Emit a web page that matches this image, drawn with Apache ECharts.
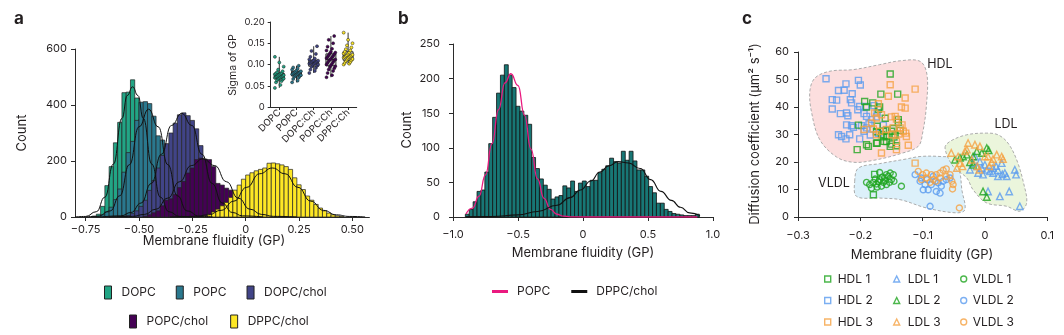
<!DOCTYPE html>
<html><head><meta charset="utf-8">
<script src="https://cdn.jsdelivr.net/npm/echarts@6/dist/echarts.min.js"></script>
<style>html,body{margin:0;padding:0;background:#fff}#c{width:1064px;height:335px}</style>
</head><body><div id="c"></div>
<script>
// ---------------- Panel a : histograms (bin centres, GP) and counts ----------------
const BIN_A = 0.02;
const DOPC_GP = [-0.71,-0.69,-0.67,-0.65,-0.63,-0.61,-0.59,-0.57,-0.55,-0.53,-0.51,-0.49,-0.47,-0.45,-0.43,-0.41,-0.39,-0.37,-0.35];
const DOPC_N  = [3,10,38,112,180,265,338,444,446,490,425,350,260,175,105,60,28,12,4];
const POPC_GP = [-0.69,-0.67,-0.65,-0.63,-0.61,-0.59,-0.57,-0.55,-0.53,-0.51,-0.49,-0.47,-0.45,-0.43,-0.41,-0.39,-0.37,-0.35,-0.33,-0.31,-0.29,-0.27,-0.25,-0.23];
const POPC_N  = [3,8,18,35,62,100,160,230,270,345,410,412,405,360,290,275,195,125,75,42,22,10,4,2];
const DOPCCH_GP = [-0.57,-0.55,-0.53,-0.51,-0.49,-0.47,-0.45,-0.43,-0.41,-0.39,-0.37,-0.35,-0.33,-0.31,-0.29,-0.27,-0.25,-0.23,-0.21,-0.19,-0.17,-0.15,-0.13,-0.11,-0.09,-0.07,-0.05,-0.03];
const DOPCCH_N  = [3,6,12,22,38,60,95,130,175,220,262,300,335,365,372,362,345,315,255,200,160,120,85,55,32,16,7,3];
const POPCCH_GP = [-0.47,-0.45,-0.43,-0.41,-0.39,-0.37,-0.35,-0.33,-0.31,-0.29,-0.27,-0.25,-0.23,-0.21,-0.19,-0.17,-0.15,-0.13,-0.11,-0.09,-0.07,-0.05,-0.03,-0.01,0.01,0.03,0.05,0.07];
const POPCCH_N  = [3,8,15,22,40,60,65,80,105,127,157,175,205,210,207,205,180,120,114,103,96,70,50,30,18,9,4,2];
const DPPCCH_GP = [-0.19,-0.17,-0.15,-0.13,-0.11,-0.09,-0.07,-0.05,-0.03,-0.01,0.01,0.03,0.05,0.07,0.09,0.11,0.13,0.15,0.17,0.19,0.21,0.23,0.25,0.27,0.29,0.31,0.33,0.35,0.37,0.39,0.41,0.43,0.45];
const DPPCCH_N  = [4,10,18,28,40,52,70,96,114,135,150,158,165,170,175,192,193,190,186,180,170,140,115,98,75,60,45,32,22,14,8,4,2];

// fitted curves [GP, count]
const FIT_DOPC   = [[-0.8,0.1],[-0.75,2],[-0.7,19],[-0.66,71],[-0.62,189],[-0.58,352],[-0.555,434],[-0.53,465],[-0.505,434],[-0.48,352],[-0.44,189],[-0.4,71],[-0.36,19],[-0.31,2],[-0.26,0.1]];
const FIT_POPC   = [[-0.755,0.1],[-0.695,2.3],[-0.635,21.6],[-0.59,76],[-0.545,187],[-0.5,322],[-0.455,385],[-0.41,322],[-0.365,187],[-0.32,76],[-0.275,21.6],[-0.215,2.3],[-0.155,0.1]];
const FIT_DOPCCH = [[-0.68,0.1],[-0.585,4.1],[-0.5375,16.2],[-0.49,50],[-0.4425,120],[-0.395,224],[-0.3475,327],[-0.3,370],[-0.2525,327],[-0.205,224],[-0.1575,120],[-0.11,50],[-0.0625,16.2],[-0.015,4.1],[0.08,0.1]];
const FIT_POPCCH = [[-0.64,0.1],[-0.53,2.3],[-0.475,9.1],[-0.42,28.1],[-0.365,67.5],[-0.31,126],[-0.255,183.6],[-0.2,208],[-0.145,183.6],[-0.09,126],[-0.035,67.5],[0.02,28.1],[0.075,9.1],[0.13,2.3],[0.24,0.1]];
const FIT_DPPCCH = [[-0.355,0.1],[-0.235,2],[-0.175,7.7],[-0.115,23.7],[-0.055,56.7],[0.005,106],[0.065,154.4],[0.125,175],[0.185,154.4],[0.245,106],[0.305,56.7],[0.365,23.7],[0.425,7.7],[0.485,2],[0.56,0.3]];
const TICKS_A_X = [-0.75,-0.5,-0.25,0,0.25,0.5];

// inset: sigma of GP
const INSET_CATS = ['DOPC','POPC','DOPC:Ch','POPC:Ch','DPPC:Ch'];
const SIG_DOPC   = [0.045,0.052,0.058,0.061,0.063,0.065,0.066,0.067,0.068,0.069,0.070,0.071,0.072,0.072,0.073,0.074,0.075,0.076,0.077,0.078,0.079,0.080,0.082,0.084,0.088,0.095,0.105,0.118];
const SIG_POPC   = [0.058,0.062,0.066,0.069,0.071,0.073,0.074,0.075,0.076,0.077,0.078,0.079,0.080,0.081,0.082,0.083,0.084,0.086,0.088,0.090,0.093,0.097];
const SIG_DOPCCH = [0.080,0.085,0.088,0.092,0.095,0.097,0.099,0.100,0.101,0.102,0.103,0.104,0.105,0.106,0.107,0.108,0.109,0.110,0.112,0.114,0.118,0.125,0.132,0.143];
const SIG_POPCCH = [0.070,0.075,0.080,0.085,0.088,0.091,0.094,0.096,0.098,0.100,0.102,0.104,0.106,0.108,0.110,0.111,0.112,0.113,0.115,0.117,0.118,0.120,0.122,0.124,0.126,0.128,0.130,0.133,0.137,0.142,0.150,0.158,0.167];
const SIG_DPPCCH = [0.100,0.102,0.104,0.106,0.108,0.110,0.111,0.113,0.114,0.116,0.117,0.118,0.119,0.120,0.121,0.122,0.123,0.125,0.126,0.128,0.130,0.133,0.136,0.140,0.145,0.150,0.158,0.175];
// [min, q1, median, q3, max]
const SIG_BOX = [[0.045,0.066,0.072,0.079,0.118],[0.058,0.073,0.078,0.084,0.097],[0.080,0.096,0.104,0.110,0.143],[0.070,0.097,0.112,0.125,0.167],[0.100,0.110,0.120,0.130,0.175]];

// ---------------- Panel b ----------------
const BIN_B = 0.03;
const B_GP = [-0.89,-0.86,-0.83,-0.80,-0.77,-0.74,-0.71,-0.68,-0.65,-0.62,-0.59,-0.56,-0.53,-0.50,-0.47,-0.44,-0.41,-0.38,-0.35,-0.32,-0.29,-0.26,-0.23,-0.20,-0.17,-0.14,-0.11,-0.08,-0.05,-0.02,0.01,0.04,0.07,0.10,0.13,0.16,0.19,0.22,0.25,0.28,0.31,0.34,0.37,0.40,0.43,0.46,0.49,0.52,0.55,0.58,0.61,0.64,0.67,0.70,0.73,0.76,0.79,0.82,0.85,0.88];
const B_N  = [4,11,22,37,39,65,106,144,179,205,220,205,187,160,153,147,134,86,70,55,46,40,26,29,31,45,42,52,37,49,52,44,53,53,64,69,74,85,80,78,95,82,95,81,68,68,59,44,35,20,20,11,8,5,4,3,2,2,2,4];
const FIT_B_POPC = [[-0.9,4.6],[-0.85,12.8],[-0.8,30],[-0.75,61],[-0.7,106],[-0.65,155],[-0.6,194],[-0.555,207],[-0.5,190],[-0.45,147],[-0.4,98],[-0.35,55],[-0.3,27],[-0.25,11],[-0.2,4],[-0.15,1.2],[-0.1,0.3],[0,0],[0.3,0],[0.6,0],[0.88,0]];
const FIT_B_DPPC = [[-0.9,0.2],[-0.7,0.8],[-0.5,3],[-0.35,8],[-0.2,17],[-0.1,28],[-0.02,39],[0.06,52],[0.13,65],[0.2,74],[0.27,80],[0.35,78],[0.44,70],[0.52,54],[0.6,37],[0.68,24],[0.75,14],[0.82,6],[0.9,2]];

// ---------------- Panel c : [GP, D] ----------------
const HDL1 = [[-0.152,52],[-0.167,44.7],[-0.140,44.7],[-0.193,42],[-0.19,40],[-0.180,41.5],[-0.171,39.2],[-0.169,40],[-0.160,35.9],[-0.139,35.4],[-0.203,33.4],[-0.173,33],[-0.174,31],[-0.163,31.2],[-0.158,31.6],[-0.150,31.2],[-0.147,32.2],[-0.136,31.5],[-0.144,29.8],[-0.139,34.4],[-0.146,29.1],[-0.158,29.3],[-0.166,29.9],[-0.163,29.2],[-0.173,26.9],[-0.162,27.5],[-0.19,26.3],[-0.187,25.7],[-0.205,24.5],[-0.174,26.8],[-0.158,27.4],[-0.152,25.7],[-0.142,25.9],[-0.15,26.5],[-0.177,15.5],[-0.179,8.1]];
const HDL2 = [[-0.255,50.3],[-0.235,46],[-0.245,42.7],[-0.238,42.5],[-0.223,48.4],[-0.226,46.1],[-0.213,44.8],[-0.203,49.7],[-0.200,48],[-0.245,39.3],[-0.232,37.6],[-0.222,37.8],[-0.220,36.8],[-0.216,42.7],[-0.214,41.5],[-0.204,39],[-0.201,40.2],[-0.191,40.2],[-0.194,37.6],[-0.190,36.6],[-0.222,33.5],[-0.214,33.2],[-0.211,32.6],[-0.235,29.9],[-0.230,29.3],[-0.223,28.4],[-0.217,29.9],[-0.201,28.4],[-0.194,31.2],[-0.186,33.9],[-0.198,33.2],[-0.190,32.4],[-0.182,35.4],[-0.173,37.8],[-0.178,40.5],[-0.163,33.4],[-0.171,30.4],[-0.184,29.8],[-0.174,36.4]];
const HDL3 = [[-0.152,48.1],[-0.155,43.9],[-0.171,41.2],[-0.112,46.5],[-0.128,43.3],[-0.134,40],[-0.128,39.6],[-0.177,37.8],[-0.174,36],[-0.166,37.2],[-0.15,36.4],[-0.144,36.6],[-0.142,35.6],[-0.182,34.2],[-0.179,32],[-0.169,31.2],[-0.158,31.8],[-0.147,32.4],[-0.136,32.4],[-0.131,31.2],[-0.127,30.5],[-0.126,29.3],[-0.15,29.9],[-0.174,29.9],[-0.166,23.3],[-0.142,24.5],[-0.123,26.1],[-0.142,27.5],[-0.194,31.8],[-0.112,19.6],[-0.138,30.2],[-0.133,33.5]];
const LDL1 = [[-0.019,19.6],[-0.013,18.4],[-0.005,17.8],[0.0,19],[0.003,17.2],[0.008,16.6],[0.013,17.8],[0.021,17],[0.027,19.6],[0.032,16],[0.035,14.8],[0.021,14.8],[0.013,16],[0.048,17.2],[0.05,15.4],[0.005,9.3],[0.039,9.3],[0.024,7.5],[0.056,3.9],[-0.024,17.2],[-0.011,16],[-0.003,15.4],[-0.008,20.2],[-0.016,22],[0.018,18.5],[0.028,15.5]];
const LDL2 = [[0.003,25.1],[-0.048,20.8],[-0.029,22.7],[-0.019,22],[-0.013,23.9],[-0.005,23.3],[-0.024,19.9],[-0.003,9.3],[0.003,7.3],[-0.04,21.5],[-0.035,22],[-0.019,19],[0.006,24.3]];
const LDL3 = [[-0.027,26.9],[-0.016,26.3],[-0.054,23.3],[-0.043,22],[-0.04,19.6],[-0.036,18.4],[-0.045,17.8],[-0.029,24.5],[-0.008,25.7],[0.0,22],[0.005,22],[0.013,21.1],[0.019,22.7],[0.027,22],[0.029,21.1],[-0.012,18.4],[-0.009,17.2],[0.007,18.4],[-0.021,20.8],[-0.032,23.9],[0.011,19.9]];
const VLDL1 = [[-0.19,12.6],[-0.185,11.8],[-0.179,12.6],[-0.174,12],[-0.169,16.2],[-0.169,13.6],[-0.163,12.6],[-0.161,14.2],[-0.155,14.8],[-0.15,13.6],[-0.147,15.4],[-0.146,13],[-0.158,11.8],[-0.166,11.2],[-0.173,10.9],[-0.182,10.5],[-0.176,13.8],[-0.153,12.6],[-0.134,11.2],[-0.171,12.8],[-0.152,16],[-0.158,15.4],[-0.165,14.5],[-0.16,13.2]];
const VLDL2 = [[-0.112,15.4],[-0.104,13],[-0.096,11.8],[-0.099,9.9],[-0.091,9.9],[-0.086,11.8],[-0.08,13],[-0.075,12.4],[-0.07,11.2],[-0.072,8.7],[-0.078,9.3],[-0.067,13],[-0.062,13.6],[-0.056,14.2],[-0.088,3.9],[-0.102,14.2],[-0.093,13.6],[-0.083,14.8]];
const VLDL3 = [[-0.107,16.6],[-0.1,15.4],[-0.094,16],[-0.086,15.4],[-0.078,15.4],[-0.072,16],[-0.067,17],[-0.062,17.5],[-0.056,15.4],[-0.053,13],[-0.051,11.8],[-0.052,10.2],[-0.094,14.2],[-0.083,13.6],[-0.102,13.6],[-0.072,14.2],[-0.062,14.8],[-0.041,3.3],[-0.078,13],[-0.088,12.6]];
const HDL_OUTLINE  = [[-0.281,45.7],[-0.273,50.5],[-0.249,53],[-0.211,53.6],[-0.169,55.4],[-0.136,56.8],[-0.104,56.6],[-0.093,51.8],[-0.094,40.2],[-0.1,30.5],[-0.107,25.7],[-0.136,23],[-0.179,20.6],[-0.211,19.9],[-0.238,21.8],[-0.265,28.1],[-0.278,37.8]];
const VLDL_OUTLINE = [[-0.209,13],[-0.203,17.8],[-0.169,19.4],[-0.126,21.1],[-0.104,22],[-0.072,22],[-0.048,21.1],[-0.04,16],[-0.037,9.9],[-0.032,2.7],[-0.045,1.5],[-0.094,3.3],[-0.136,6.3],[-0.169,6.9],[-0.206,7.5]];
const LDL_OUTLINE  = [[-0.064,25.1],[-0.056,27.5],[-0.029,29.9],[0.003,30.5],[0.021,29.9],[0.037,26.9],[0.051,20.8],[0.062,12.4],[0.067,5.1],[0.056,2.1],[0.035,3.9],[0.003,5.1],[-0.019,9.9],[-0.029,14.2],[-0.051,18.4]];

// ---------------- styling ----------------
const FONT = 'Inter, "Liberation Sans", Arial, sans-serif';
const TXT = '#231f20';
const AXC = '#2b2b2b';
const C_A = {'DOPC':'#22a585','POPC':'#2a788e','DOPC/chol':'#414487','POPC/chol':'#440154','DPPC/chol':'#fde725'};
const INSET_COL = ['#22a585','#2a788e','#414487','#440154','#fde725'];
const GREEN = '#1fa51f', BLUE = '#5a9bef', ORANGE = '#f5a142';
const fmt = d => v => (Math.abs(v) < 1e-9 ? '0' : v.toFixed(d).replace('-', '\u2212'));

function axisBase(extra) {
  const o = {
    axisLine: {show: true, onZero: false, lineStyle: {color: AXC, width: 1}},
    axisTick: {show: true, length: 4, lineStyle: {color: AXC, width: 1}},
    splitLine: {show: false},
    axisLabel: {color: TXT, fontFamily: FONT, fontSize: 11}
  };
  for (const k in extra) {
    if (o[k] && typeof extra[k] === 'object' && !Array.isArray(extra[k])) o[k] = Object.assign({}, o[k], extra[k]);
    else o[k] = extra[k];
  }
  return o;
}

function hist(name, gp, n, color, xi, yi, bw, stroke, lw) {
  return {
    type: 'custom', name, xAxisIndex: xi, yAxisIndex: yi, silent: true,
    data: gp.map((g, i) => [g, n[i]]), encode: {x: 0, y: 1},
    itemStyle: {color},
    renderItem(params, api) {
      const x = api.value(0), y = api.value(1);
      const a = api.coord([x - bw / 2, y]), b = api.coord([x + bw / 2, 0]);
      return {type: 'rect', shape: {x: a[0], y: a[1], width: b[0] - a[0], height: b[1] - a[1]},
        style: {fill: color, stroke, lineWidth: lw}};
    }
  };
}
function curve(name, pts, color, xi, yi, w) {
  return {type: 'line', name, xAxisIndex: xi, yAxisIndex: yi, data: pts, smooth: 0.5, smoothMonotone: 'x',
    showSymbol: false, symbol: 'none', silent: true, z: 4, lineStyle: {color, width: w}, itemStyle: {color}};
}
function scat(name, pts, symbol, size, color) {
  return {type: 'scatter', name, xAxisIndex: 3, yAxisIndex: 3, data: pts, symbol, symbolSize: size, z: 4, silent: true,
    itemStyle: {color: 'rgba(0,0,0,0)', borderColor: color, borderWidth: 1.4}};
}

const insetPts = [];
[SIG_DOPC, SIG_POPC, SIG_DOPCCH, SIG_POPCCH, SIG_DPPCCH].forEach((arr, c) => arr.forEach((v, j) => insetPts.push([c, v, j])));

const REGIONS = [
  {pts: HDL_OUTLINE, fill: '#fcdede'},
  {pts: VLDL_OUTLINE, fill: '#dcf0fa'},
  {pts: LDL_OUTLINE, fill: '#ebf5dc'}
];

const series = [
  hist('DOPC', DOPC_GP, DOPC_N, C_A['DOPC'], 0, 0, BIN_A, '#222', 0.7),
  hist('POPC', POPC_GP, POPC_N, C_A['POPC'], 0, 0, BIN_A, '#222', 0.7),
  hist('DOPC/chol', DOPCCH_GP, DOPCCH_N, C_A['DOPC/chol'], 0, 0, BIN_A, '#222', 0.7),
  hist('POPC/chol', POPCCH_GP, POPCCH_N, C_A['POPC/chol'], 0, 0, BIN_A, '#222', 0.7),
  hist('DPPC/chol', DPPCCH_GP, DPPCCH_N, C_A['DPPC/chol'], 0, 0, BIN_A, '#222', 0.7),
  curve('fitA1', FIT_DOPC, '#111', 0, 0, 1),
  curve('fitA2', FIT_POPC, '#111', 0, 0, 1),
  curve('fitA3', FIT_DOPCCH, '#111', 0, 0, 1),
  curve('fitA4', FIT_POPCCH, '#111', 0, 0, 1),
  curve('fitA5', FIT_DPPCCH, '#111', 0, 0, 1),
  {
    type: 'custom', name: 'insetBox', xAxisIndex: 1, yAxisIndex: 1, silent: true,
    data: SIG_BOX.map((b, i) => [i].concat(b)), encode: {x: 0, y: [1, 2, 3, 4, 5]},
    renderItem(params, api) {
      const c = api.value(0);
      const pMin = api.coord([c, api.value(1)]), pQ1 = api.coord([c, api.value(2)]),
            pMed = api.coord([c, api.value(3)]), pQ3 = api.coord([c, api.value(4)]), pMax = api.coord([c, api.value(5)]);
      const hw = 5;
      const st = {stroke: '#1a1a1a', lineWidth: 0.9, fill: null};
      return {type: 'group', children: [
        {type: 'line', shape: {x1: pMin[0], y1: pMin[1], x2: pQ1[0], y2: pQ1[1]}, style: st},
        {type: 'line', shape: {x1: pQ3[0], y1: pQ3[1], x2: pMax[0], y2: pMax[1]}, style: st},
        {type: 'rect', shape: {x: pQ3[0] - hw, y: pQ3[1], width: 2 * hw, height: pQ1[1] - pQ3[1]}, style: {stroke: '#1a1a1a', lineWidth: 0.9, fill: 'rgba(0,0,0,0.12)'}},
        {type: 'line', shape: {x1: pMed[0] - hw, y1: pMed[1], x2: pMed[0] + hw, y2: pMed[1]}, style: st}
      ]};
    }
  },
  {
    type: 'custom', name: 'insetPts', xAxisIndex: 1, yAxisIndex: 1, silent: true, z: 5,
    data: insetPts, encode: {x: 0, y: 1},
    renderItem(params, api) {
      const c = api.value(0), j = api.value(2);
      const p = api.coord([c, api.value(1)]);
      const off = (((j * 5) % 9) - 4) * 1.1;
      return {type: 'circle', shape: {cx: p[0] + off, cy: p[1], r: 1.5},
        style: {fill: INSET_COL[c], stroke: '#1a1a1a', lineWidth: 0.5}};
    }
  },
  hist('histB', B_GP, B_N, '#187775', 2, 2, BIN_B, '#111', 0.8),
  curve('b:POPC', FIT_B_POPC, '#ea1a7f', 2, 2, 1.3),
  curve('b:DPPC/chol', FIT_B_DPPC, '#111', 2, 2, 1.1),
  {
    type: 'custom', name: 'regions', xAxisIndex: 3, yAxisIndex: 3, silent: true, z: 1,
    data: REGIONS.map(r => r.pts[0]), encode: {x: 0, y: 1},
    renderItem(params, api) {
      const r = REGIONS[params.dataIndex];
      return {type: 'polygon', shape: {points: r.pts.map(p => api.coord(p)), smooth: 0.35},
        style: {fill: r.fill, stroke: '#a3a3a3', lineWidth: 0.9, lineDash: [3, 2]}};
    }
  },
  scat('HDL 2', HDL2, 'rect', 6, BLUE),
  scat('HDL 1', HDL1, 'rect', 6, GREEN),
  scat('HDL 3', HDL3, 'rect', 6, ORANGE),
  scat('LDL 1', LDL1, 'triangle', 6.5, BLUE),
  scat('LDL 2', LDL2, 'triangle', 6.5, GREEN),
  scat('LDL 3', LDL3, 'triangle', 6.5, ORANGE),
  scat('VLDL 2', VLDL2, 'circle', 6, BLUE),
  scat('VLDL 1', VLDL1, 'circle', 6, GREEN),
  scat('VLDL 3', VLDL3, 'circle', 6, ORANGE)
];

function gtext(x, y, text, size, opts) {
  opts = opts || {};
  return {type: 'text', x, y, rotation: opts.rot || 0, silent: true,
    style: {text, fill: TXT, fontFamily: opts.family || FONT, fontSize: size, fontWeight: opts.weight || 'normal',
      align: opts.align || 'center', verticalAlign: 'middle', textAlign: opts.align || 'center', textVerticalAlign: 'middle'}};
}

const legendCommon = {padding: 0, selectedMode: false, textStyle: {color: TXT, fontFamily: FONT, fontSize: 12, padding: [0, 0, 0, 5]}};
const aItem = n => ({name: n, icon: 'rect', itemStyle: {color: C_A[n], borderColor: '#222', borderWidth: 1}});
const cItem = (n, icon, col) => ({name: n, icon, itemStyle: {color: 'rgba(0,0,0,0)', borderColor: col, borderWidth: 1.4}});

const option = {
  animation: false,
  backgroundColor: '#fff',
  grid: [
    {left: 75, top: 49, width: 294.4, height: 168, outerBoundsMode: 'none'},
    {left: 270.7, top: 22, width: 86, height: 85, outerBoundsMode: 'none'},
    {left: 453, top: 44, width: 260, height: 173, outerBoundsMode: 'none'},
    {left: 798, top: 52, width: 249.2, height: 165, outerBoundsMode: 'none'}
  ],
  xAxis: [
    axisBase({type: 'value', gridIndex: 0, min: -0.8, max: 0.58,
      axisTick: {customValues: TICKS_A_X}, axisLabel: {customValues: TICKS_A_X, formatter: fmt(2), margin: 7}}),
    axisBase({type: 'category', gridIndex: 1, data: INSET_CATS, boundaryGap: true,
      axisTick: {alignWithLabel: true, length: 3}, axisLabel: {rotate: 45, interval: 0, fontSize: 9.5, margin: 4}}),
    axisBase({type: 'value', gridIndex: 2, min: -1, max: 1, interval: 0.5, axisLabel: {formatter: fmt(1), margin: 12}}),
    axisBase({type: 'value', gridIndex: 3, min: -0.3, max: 0.1, interval: 0.1, axisLabel: {formatter: fmt(1), margin: 13}})
  ],
  yAxis: [
    axisBase({type: 'value', gridIndex: 0, min: 0, max: 600, interval: 200, axisLabel: {margin: 8}}),
    axisBase({type: 'value', gridIndex: 1, min: 0, max: 0.2, interval: 0.05, axisTick: {length: 3},
      axisLabel: {formatter: v => (v === 0 ? '0' : v.toFixed(2)), fontSize: 9.5, margin: 6}}),
    axisBase({type: 'value', gridIndex: 2, min: 0, max: 250, interval: 50, axisLabel: {margin: 13}}),
    axisBase({type: 'value', gridIndex: 3, min: 0, max: 60, interval: 10, axisLabel: {margin: 9}})
  ],
  legend: [
    Object.assign({}, legendCommon, {left: 104, top: 285.5, itemWidth: 7, itemHeight: 13, itemGap: 20,
      data: ['DOPC', 'POPC', 'DOPC/chol'].map(aItem)}),
    Object.assign({}, legendCommon, {left: 129, top: 314.5, itemWidth: 7, itemHeight: 13, itemGap: 22,
      data: ['POPC/chol', 'DPPC/chol'].map(aItem)}),
    Object.assign({}, legendCommon, {left: 492, top: 285.5, itemWidth: 16, itemHeight: 3, itemGap: 21,
      formatter: n => n.replace('b:', ''),
      textStyle: Object.assign({}, legendCommon.textStyle, {padding: [0, 0, 0, 4]}),
      data: [{name: 'b:POPC', icon: 'rect', itemStyle: {color: '#ea1a7f', borderWidth: 0}},
             {name: 'b:DPPC/chol', icon: 'rect', itemStyle: {color: '#111', borderWidth: 0}}]}),
    Object.assign({}, legendCommon, {left: 824, top: 272, orient: 'vertical', itemWidth: 6, itemHeight: 6, itemGap: 7.5,
      textStyle: Object.assign({}, legendCommon.textStyle, {padding: [0, 0, 0, 2], lineHeight: 14}),
      data: [cItem('HDL 1', 'rect', GREEN), cItem('HDL 2', 'rect', BLUE), cItem('HDL 3', 'rect', ORANGE)]}),
    Object.assign({}, legendCommon, {left: 893, top: 272, orient: 'vertical', itemWidth: 6, itemHeight: 6, itemGap: 7.5,
      textStyle: Object.assign({}, legendCommon.textStyle, {padding: [0, 0, 0, 3], lineHeight: 14}),
      data: [cItem('LDL 1', 'triangle', BLUE), cItem('LDL 2', 'triangle', GREEN), cItem('LDL 3', 'triangle', ORANGE)]}),
    Object.assign({}, legendCommon, {left: 960, top: 272, orient: 'vertical', itemWidth: 6, itemHeight: 6, itemGap: 7.5,
      textStyle: Object.assign({}, legendCommon.textStyle, {padding: [0, 0, 0, 1], lineHeight: 14}),
      data: [cItem('VLDL 1', 'circle', GREEN), cItem('VLDL 2', 'circle', BLUE), cItem('VLDL 3', 'circle', ORANGE)]})
  ],
  graphic: [
    gtext(14, 19, 'a', 17, {weight: 'bold', align: 'left'}),
    gtext(398, 19, 'b', 17, {weight: 'bold', align: 'left'}),
    gtext(742, 19, 'c', 17, {weight: 'bold', align: 'left'}),
    gtext(22, 133, 'Count', 13, {rot: Math.PI / 2}),
    gtext(214, 241, 'Membrane fluidity (GP)', 13),
    gtext(233, 65, 'Sigma of GP', 10.5, {rot: Math.PI / 2}),
    gtext(407, 130, 'Count', 13, {rot: Math.PI / 2}),
    gtext(583, 253, 'Membrane fluidity (GP)', 13),
    gtext(755, 134, 'Diffusion coefficient (\u03bcm\u00b2 s\u207b\u00b9)', 13, {rot: Math.PI / 2}),
    gtext(922, 255, 'Membrane fluidity (GP)', 13),
    gtext(940, 64, 'HDL', 12.5),
    gtext(1006, 124, 'LDL', 12.5),
    gtext(834, 183, 'VLDL', 12.5)
  ],
  series
};

const chart = echarts.init(document.getElementById('c'), null, {renderer: 'canvas'});
chart.setOption(option);
</script></body></html>
